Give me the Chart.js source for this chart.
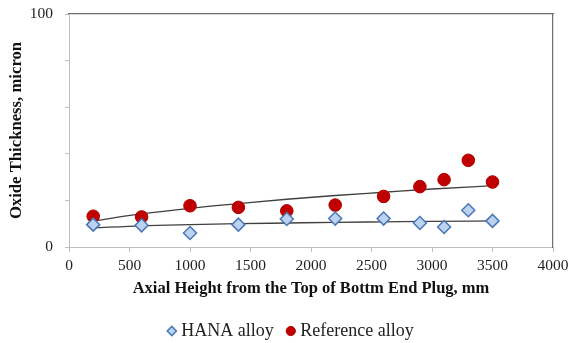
<!DOCTYPE html>
<html><head><meta charset="utf-8">
<script src="https://cdn.jsdelivr.net/npm/chart.js@4.4.1/dist/chart.umd.min.js"></script>
<style>html,body{margin:0;padding:0;background:#fff;}#wrap{width:571px;height:343px;}</style>
</head><body><div id="wrap"><canvas id="c" width="571" height="343"></canvas></div>
<script>
const axialHeights = [200, 600, 1000, 1400, 1800, 2200, 2600, 2900, 3100, 3300, 3500];
const hanaValues = [9.6, 9.3, 6.0, 9.6, 12.0, 12.2, 12.2, 10.3, 8.6, 15.8, 11.2];
const referenceValues = [13.2, 12.9, 17.7, 17.0, 15.5, 18.0, 21.7, 25.9, 28.9, 37.2, 27.9];
const trendHeights = [200, 600, 1000, 1400, 1800, 2200, 2600, 3000, 3500];
const hanaTrend = [8.2, 9.1, 9.6, 10.0, 10.3, 10.6, 10.8, 11.0, 11.2];
const referenceTrend = [11.2, 14.2, 16.6, 18.6, 20.5, 22.1, 23.5, 24.9, 26.3];
const xTickLabels = [0, 500, 1000, 1500, 2000, 2500, 3000, 3500, 4000];
const yTickLabels = [0, 100];
const seriesNames = ['HANA alloy', 'Reference alloy'];

const pts = (xs, ys) => xs.map((x, i) => ({x: x, y: ys[i]}));
const serif = 'Liberation Serif, Times New Roman, serif';

const legendShift = {
  id: 'legendShift',
  afterLayout(chart) {
    if (chart.legend) { chart.legend.left += 16; chart.legend.right += 16; }
  }
};

new Chart(document.getElementById('c'), {
  type: 'scatter',
  plugins: [legendShift],
  data: {
    datasets: [
      {label: seriesNames[0], data: pts(axialHeights, hanaValues), pointStyle: 'rectRot', pointRadius: 6.5,
       backgroundColor: '#BCD3EF', borderColor: '#4A78B5', borderWidth: 1.5},
      {label: seriesNames[1], data: pts(axialHeights, referenceValues), pointStyle: 'circle', pointRadius: 6.3,
       backgroundColor: '#C00000', borderColor: '#B00000', borderWidth: 1},
      {label: 'trendHANA', data: pts(trendHeights, hanaTrend), type: 'line', showLine: true, pointRadius: 0,
       borderColor: '#404040', borderWidth: 1.3, cubicInterpolationMode: 'monotone', fill: false},
      {label: 'trendRef', data: pts(trendHeights, referenceTrend), type: 'line', showLine: true, pointRadius: 0,
       borderColor: '#404040', borderWidth: 1.3, cubicInterpolationMode: 'monotone', fill: false}
    ]
  },
  options: {
    responsive: false, animation: false, devicePixelRatio: 1,
    layout: {padding: {top: 14, right: 18, left: 0, bottom: -7}},
    plugins: {
      tooltip: {enabled: false},
      legend: {
        position: 'bottom',
        labels: {
          filter: (item) => item.datasetIndex < 2,
          sort: (a, b) => a.datasetIndex - b.datasetIndex,
          usePointStyle: true, boxWidth: 1, boxHeight: 6.5, padding: 16.5,
          font: {family: serif, size: 18}, color: '#222'
        }
      }
    },
    scales: {
      x: {
        type: 'linear', position: 'bottom', min: 0, max: 4000,
        afterBuildTicks: (s) => { s.ticks = xTickLabels.map(v => ({value: v})); },
        afterFit: (s) => { s.height = 58.5; s.paddingLeft = 0; s.paddingRight = 0; },
        ticks: {font: {family: serif, size: 15.5}, color: '#222', padding: 4.7, maxRotation: 0,
                callback: (v) => String(v)},
        grid: {drawOnChartArea: false, drawTicks: true, tickLength: 5, color: '#BFBFBF'},
        border: {display: true, color: '#BFBFBF', width: 1},
        title: {display: true, text: 'Axial Height from the Top of Bottm End Plug, mm',
                font: {family: serif, size: 16.5, weight: 'bold'}, color: '#111', padding: {top: 0, bottom: 6.6}}
      },
      x2: {
        type: 'linear', position: 'top', min: 0, max: 4000,
        afterFit: (s) => { s.height = 0; s.paddingLeft = 0; s.paddingRight = 0; },
        ticks: {display: false}, grid: {display: false},
        border: {display: true, color: '#6E6E6E', width: 1.2}
      },
      y: {
        type: 'linear', position: 'left', min: 0, max: 100,
        afterFit: (s) => { s.width = 69; s.paddingTop = 0; s.paddingBottom = 0; },
        ticks: {stepSize: 20, font: {family: serif, size: 15.5}, color: '#222', padding: 12,
                callback: (v) => yTickLabels.includes(v) ? String(v) : ''},
        grid: {drawOnChartArea: false, drawTicks: true, tickLength: 4, color: '#BFBFBF'},
        border: {display: true, color: '#BFBFBF', width: 1},
        title: {display: true, text: 'Oxide Thickness, micron',
                font: {family: serif, size: 16.7, weight: 'bold'}, color: '#111', padding: {top: 7, bottom: 0}}
      },
      y2: {
        type: 'linear', position: 'right', min: 0, max: 100,
        afterFit: (s) => { s.width = 0; s.paddingTop = 0; s.paddingBottom = 0; },
        ticks: {display: false}, grid: {display: false},
        border: {display: true, color: '#6E6E6E', width: 1.2}
      }
    }
  }
});
</script></body></html>
